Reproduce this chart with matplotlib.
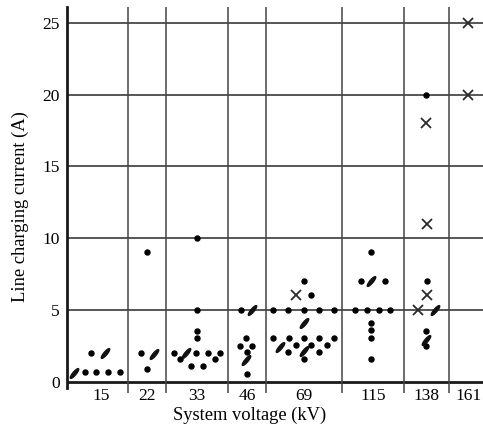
import numpy as np
import matplotlib
matplotlib.use("Agg")
import matplotlib.pyplot as plt
from matplotlib.path import Path
from matplotlib.markers import MarkerStyle
from matplotlib.transforms import Affine2D

plt.rcParams['font.family'] = ['Liberation Serif', 'DejaVu Serif']

# System voltage columns (kV) and their widths on the original sheet
voltages = ["15", "22", "33", "46", "69", "115", "138", "161"]
col_widths = [61, 38, 62, 38, 76, 62, 45, 34]

# Each point: (column index, horizontal offset inside the column, current in A)
dot_col = [0] * 5 + [1] * 3 + [2] * 12 + [3] * 6 + [4] * 18 + [5] * 11 + [6] * 4
dot_off = [18, 29, 41, 53, 24,
           19, 13, 19,
           31, 31, 31, 31, 8, 30, 42, 54, 14, 49, 25, 37,
           12.5, 18, 12, 24, 19, 19,
           38, 45, 7, 22, 38, 53, 68, 7, 23, 38, 53, 68, 30, 45, 61, 22, 53, 38,
           29, 19, 43, 13, 25, 37, 48, 29, 29, 29, 29,
           22, 22.5, 22, 22]
dot_amp = [0.65, 0.65, 0.65, 0.65, 2.0,
           9.0, 2.0, 0.9,
           10.0, 5.0, 3.5, 3.05, 2.0, 2.0, 2.0, 2.0, 1.55, 1.55, 1.1, 1.1,
           5.0, 3.05, 2.5, 2.5, 2.05, 0.5,
           7.0, 6.0, 5.0, 5.0, 5.0, 5.0, 5.0, 3.0, 3.0, 3.0, 3.0, 3.0, 2.55, 2.55, 2.55, 2.05, 2.05, 1.55,
           9.0, 7.0, 7.0, 5.0, 5.0, 5.0, 5.0, 4.05, 3.6, 3.0, 1.55,
           20.0, 7.0, 3.55, 2.5]

slash_col = [0, 0, 1, 2, 3, 3, 4, 4, 4, 5, 6, 6]
slash_off = [7, 38, 26, 20, 23.5, 18, 38, 14, 38, 29, 31, 21.5]
slash_amp = [0.6, 2.0, 1.95, 2.0, 5.0, 1.5, 4.05, 2.4, 2.1, 7.0, 5.0, 2.9]

cross_col = [4, 6, 6, 6, 6, 7, 7]
cross_off = [30, 22, 22.5, 22.5, 14, 19, 19]
cross_amp = [6.0, 18.0, 11.0, 6.0, 5.0, 25.0, 20.0]

y_ticks = [0, 5, 10, 15, 20, 25]

edges = np.concatenate([[0], np.cumsum(col_widths)])


def to_x(cols, offs):
    return edges[np.array(cols)] + np.array(offs)


# thin slanted ellipse used for the "/" marks
t = np.linspace(0, 2 * np.pi, 40)
ell = np.column_stack([0.27 * np.cos(t), np.sin(t)])
slash_path = Path(ell)
slash_marker = MarkerStyle(slash_path, transform=Affine2D().rotate_deg(-40))

fig = plt.figure(figsize=(4.83, 4.26), dpi=100)
ax = fig.add_axes([67 / 483, 33 / 426, 416 / 483, 386 / 426])
ax.set_xlim(0, edges[-1])
ax.set_ylim(-0.8, 26.1)

# grid: horizontal current lines and column separators
for yv in y_ticks[1:]:
    ax.axhline(yv, color='#3a3a3a', lw=1.2, zorder=1)
ax.axhline(0, color='#1a1a1a', lw=2.0, zorder=1)
for xe in edges[1:-1]:
    ax.axvline(xe, color='#444444', lw=1.1, zorder=1)

for s in ['top', 'right', 'bottom']:
    ax.spines[s].set_visible(False)
ax.spines['left'].set_linewidth(2.0)
ax.spines['left'].set_color('#1a1a1a')
ax.spines['left'].set_bounds(-0.45, 26.1)

ax.plot(to_x(dot_col, dot_off), dot_amp, 'o', color='black', ms=3.6, zorder=3)
ax.plot(to_x(slash_col, slash_off), slash_amp, linestyle='none', marker=slash_marker,
        color='#111111', ms=9, zorder=3)
ax.plot(to_x(cross_col, cross_off), cross_amp, 'x', color='#2a2a2a', ms=6.5, mew=1.3, zorder=3)

ax.set_xticks([])
ax.set_yticks(y_ticks)
ax.set_yticklabels([str(v) for v in y_ticks], fontsize=12.5)
ax.tick_params(axis='y', length=0, pad=5)

centers = (edges[:-1] + edges[1:]) / 2
centers[0] += 4
centers[-1] += 3
for c, lab in zip(centers, voltages):
    ax.text(c, -1.0, lab, ha='center', va='center', fontsize=12.5, clip_on=False)

ax.text((250 - 67) / 416, -0.057, "System voltage (kV)", transform=ax.transAxes,
        ha='center', va='center', fontsize=13.3)
fig.text(20 / 483, 1 - 207 / 426, "Line charging current (A)", rotation=90,
         ha='center', va='center', fontsize=13.3)

fig.savefig("out.png", dpi=100)
